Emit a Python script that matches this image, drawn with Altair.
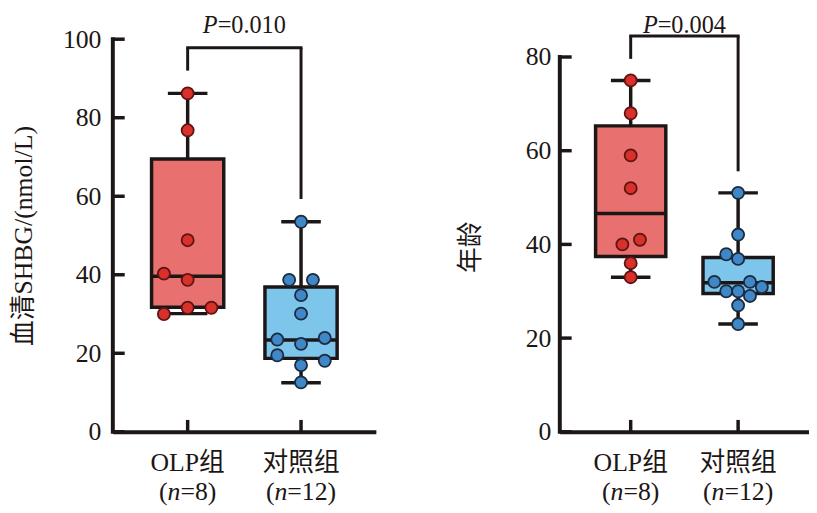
import altair as alt
import pandas as pd

# ---------------- data ----------------
groups = ["OLP组", "对照组"]
group_n = ["8", "12"]

# panel 1: serum SHBG
shbg_olp = [86.2, 76.8, 48.8, 40.3, 38.7, 31.6, 31.6, 30.0]
shbg_olp_slot = [0, 0, 0, -1, 0, 0, 1, -1]
shbg_ctl = [53.5, 38.7, 38.7, 34.8, 30.1, 23.5, 22.4, 23.9, 19.5, 18.1, 17.0, 12.6]
shbg_ctl_slot = [0, -0.5, 0.5, 0, 0, -1, 0, 1, -1, 1, 0, 0]
shbg_lower = [30.1, 12.5]
shbg_q1 = [31.7, 18.7]
shbg_median = [39.6, 23.4]
shbg_q3 = [69.5, 36.9]
shbg_upper = [86.2, 53.5]
shbg_ticks = [0, 20, 40, 60, 80, 100]
shbg_p = "0.010"
shbg_bracket = [97.8, 92.0, 59.3]  # bar level, left drop end, right drop end

# panel 2: age
age_olp = [75, 68, 59, 52, 40, 41, 36, 33]
age_olp_slot = [0, 0, 0, 0, -0.35, 0.39, 0, 0]
age_ctl = [51, 42.1, 37.9, 36.9, 32, 32, 30.9, 30, 30, 29, 27, 23]
age_ctl_slot = [0, 0, -0.5, 0, -1, 0.5, 1, -0.5, 0, 0.5, 0, 0]
age_lower = [33, 23]
age_q1 = [37.4, 29.5]
age_median = [46.6, 31.8]
age_q3 = [65.3, 37.2]
age_upper = [75, 51]
age_ticks = [0, 20, 40, 60, 80]
age_p = "0.004"
age_bracket = [84.5, 79.6, 55.6]

# ---------------- style ----------------
INK = "#1c1616"
FONT = "Liberation Serif, Noto Sans CJK SC, serif"
FS = 26
PFS = 24.5
H = 397
PAD = 0.66
BOX_FILL = ["#E8716F", "#7DC5EA"]
PT_FILL = ["#D8302B", "#3F87C7"]
PT_STROKE = ["#5E1412", "#1B2B40"]

# approximate advance widths (em) of Times-like glyphs
W = {"(": 0.333, ")": 0.333, "=": 0.564, ".": 0.25, "n": 0.5, "P": 0.611}
def tw(s):
    return sum(W.get(c, 0.5) for c in s)


def panel(olp, olp_slot, ctl, ctl_slot, lower, q1, med, q3, upper, ticks, ymax,
          ptxt, bracket, ytitle, width, box_w, slot_px, label_pad, title_pad,
          title_y, p_y):
    pts = pd.DataFrame({
        "group": [groups[0]] * len(olp) + [groups[1]] * len(ctl),
        "value": olp + ctl,
        "slot": olp_slot + ctl_slot,
    })
    box = pd.DataFrame({"group": groups, "lower": lower, "q1": q1,
                        "median": med, "q3": q3, "upper": upper})
    tick_df = pd.DataFrame({"t": ticks})
    dom_df = pd.DataFrame({"a": [ticks[0]], "b": [ticks[-1]]})
    grp_df = pd.DataFrame({"group": groups})

    xs = alt.Scale(domain=groups, type="point", padding=PAD)
    xax = alt.Axis(labels=False, ticks=False, title=None, domainWidth=4,
                   domainColor=INK, grid=False)
    X = alt.X("group:N", scale=xs, axis=xax)
    ys = alt.Scale(domain=[0, ymax], nice=False, zero=True)
    yax_kw = dict(values=ticks, ticks=False, domain=False, grid=False,
                  labelPadding=label_pad, titlePadding=title_pad, title=ytitle,
                  labelFont=FONT, titleFont=FONT, labelFontSize=FS, titleFontSize=FS,
                  titleFontWeight="normal", labelColor=INK, titleColor=INK)
    if title_y is not None:
        yax_kw["titleY"] = title_y
    yax = alt.Axis(**yax_kw)

    def Y(field):
        return alt.Y(field, scale=ys, axis=yax)

    fill = alt.Color("group:N", scale=alt.Scale(domain=groups, range=BOX_FILL), legend=None)
    pfill = alt.Fill("group:N", scale=alt.Scale(domain=groups, range=PT_FILL), legend=None)
    pstroke = alt.Stroke("group:N", scale=alt.Scale(domain=groups, range=PT_STROKE), legend=None)

    layers = []
    # y axis line and inward ticks
    layers.append(alt.Chart(dom_df).mark_rule(color=INK, strokeWidth=4, strokeCap="square")
                  .encode(x=alt.value(0), y=Y("a:Q"), y2="b:Q"))
    layers.append(alt.Chart(tick_df).mark_rule(color=INK, strokeWidth=3.5)
                  .encode(x=alt.value(0), x2=alt.value(12), y=Y("t:Q")))
    # x ticks (inward)
    layers.append(alt.Chart(grp_df).mark_rule(color=INK, strokeWidth=3.5)
                  .encode(x=X, y=alt.value(H), y2=alt.value(H - 12)))
    # whiskers
    layers.append(alt.Chart(box).mark_rule(color=INK, strokeWidth=3.5)
                  .encode(x=X, y=Y("lower:Q"), y2="q1:Q"))
    layers.append(alt.Chart(box).mark_rule(color=INK, strokeWidth=3.5)
                  .encode(x=X, y=Y("q3:Q"), y2="upper:Q"))
    layers.append(alt.Chart(box).mark_tick(color=INK, size=40, thickness=3.5, opacity=1)
                  .encode(x=X, y=Y("lower:Q")))
    layers.append(alt.Chart(box).mark_tick(color=INK, size=40, thickness=3.5, opacity=1)
                  .encode(x=X, y=Y("upper:Q")))
    # box
    layers.append(alt.Chart(box).mark_bar(size=box_w, stroke=INK, strokeWidth=3.5, opacity=1)
                  .encode(x=X, y=Y("q1:Q"), y2="q3:Q", color=fill))
    layers.append(alt.Chart(box).mark_tick(color=INK, size=box_w, thickness=3.5, opacity=1)
                  .encode(x=X, y=Y("median:Q")))
    # points
    layers.append(alt.Chart(pts).mark_circle(size=150, strokeWidth=1.8, opacity=1)
                  .encode(x=X, y=Y("value:Q"),
                          xOffset=alt.XOffset("slot:Q", scale=alt.Scale(domain=[-1, 1], range=[-slot_px, slot_px])),
                          fill=pfill, stroke=pstroke))
    # significance bracket
    br = pd.DataFrame({"g1": [groups[0]], "g2": [groups[1]],
                       "top": [bracket[0]], "l": [bracket[1]], "r": [bracket[2]]})
    layers.append(alt.Chart(br).mark_rule(color=INK, strokeWidth=3, strokeCap="square")
                  .encode(x=alt.X("g1:N", scale=xs, axis=xax), x2="g2:N", y=Y("top:Q")))
    layers.append(alt.Chart(br).mark_rule(color=INK, strokeWidth=3)
                  .encode(x=alt.X("g1:N", scale=xs, axis=xax), y=Y("top:Q"), y2="l:Q"))
    layers.append(alt.Chart(br).mark_rule(color=INK, strokeWidth=3)
                  .encode(x=alt.X("g2:N", scale=xs, axis=xax), y=Y("top:Q"), y2="r:Q"))

    # P value text: italic P + "=value", centred between the groups
    step = width / (1 + 2 * PAD)
    parts = [("P", "italic"), ("=" + ptxt, "normal")]
    total = sum(tw(s) for s, _ in parts) * PFS
    cur = step / 2 - total / 2
    for s, style in parts:
        layers.append(alt.Chart(br).mark_text(font=FONT, fontSize=PFS, fontStyle=style,
                                              align="left", baseline="alphabetic",
                                              color=INK, dx=cur)
                      .encode(x=alt.X("g1:N", scale=xs, axis=xax), y=alt.value(p_y),
                              text=alt.value(s)))
        cur += tw(s) * PFS

    # category labels, line 1
    layers.append(alt.Chart(grp_df).mark_text(font=FONT, fontSize=FS, align="center",
                                              baseline="alphabetic", color=INK)
                  .encode(x=X, y=alt.value(H + 40), text="group:N"))
    # category labels, line 2: (n=..)
    for g, n in zip(groups, group_n):
        gdf = pd.DataFrame({"group": [g]})
        parts = [("(", "normal"), ("n", "italic"), ("=" + n + ")", "normal")]
        total = sum(tw(s) for s, _ in parts) * FS
        cur = -total / 2
        for s, style in parts:
            layers.append(alt.Chart(gdf).mark_text(font=FONT, fontSize=FS, fontStyle=style,
                                                   align="left", baseline="alphabetic",
                                                   color=INK, dx=cur)
                          .encode(x=X, y=alt.value(H + 69), text=alt.value(s)))
            cur += tw(s) * FS

    return alt.layer(*layers).properties(width=width, height=H)


left = panel(shbg_olp, shbg_olp_slot, shbg_ctl, shbg_ctl_slot, shbg_lower, shbg_q1,
             shbg_median, shbg_q3, shbg_upper, shbg_ticks, 100, shbg_p, shbg_bracket,
             "血清SHBG/(nmol/L)", 266, 73, 24, 12, 26, None, -6)
right = panel(age_olp, age_olp_slot, age_ctl, age_ctl_slot, age_lower, age_q1,
              age_median, age_q3, age_upper, age_ticks, 83.8, age_p, age_bracket,
              "年龄", 252, 71, 31, 9, 42, 210, -6)

chart = alt.hconcat(left, right, spacing=186, bounds="flush").properties(
    padding={"left": 3, "top": 2.75, "right": 0, "bottom": 0},
    background="white"
).configure_view(stroke=None)

chart.save("out.html", embed_options={"renderer": "svg", "actions": False})
